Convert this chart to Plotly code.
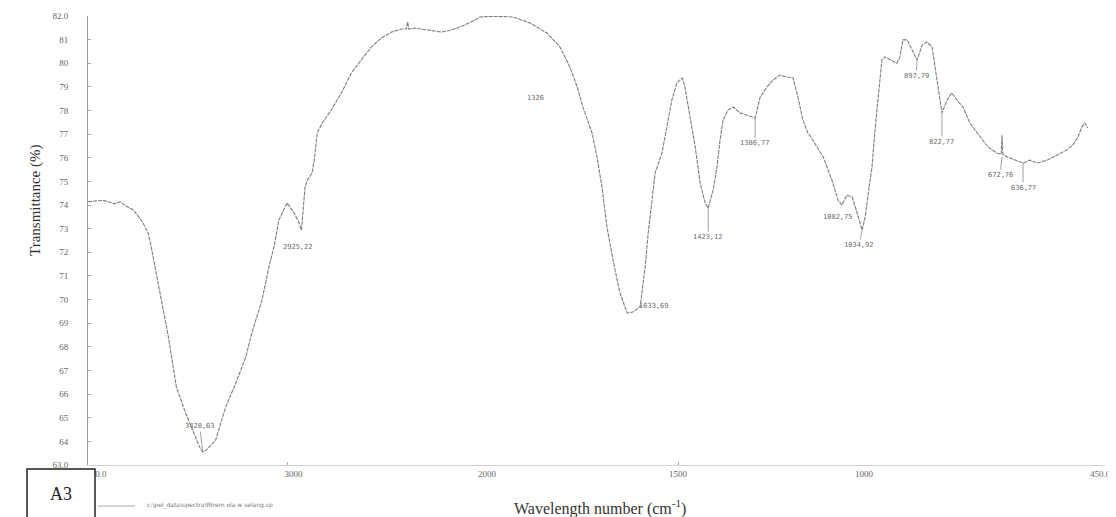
import numpy as np
import plotly.graph_objects as go

# ---- data ----
wavenumber = [4000, 3924, 3864, 3839, 3809, 3773, 3733, 3698, 3683, 3662, 3632, 3597, 3557, 3511,
              3461, 3440, 3425, 3405, 3360, 3310, 3259, 3209, 3179, 3128, 3093, 3068, 3043, 3002,
              2967, 2945, 2930, 2922, 2912, 2900, 2877, 2866, 2851, 2826, 2781, 2730, 2680, 2630,
              2579, 2529, 2479, 2428, 2404, 2398, 2392, 2363, 2297, 2227, 2176, 2111, 2060, 2035,
              1974, 1932, 1887, 1843, 1809, 1783, 1764, 1749, 1725, 1712, 1699, 1686, 1670, 1652,
              1633, 1618, 1599, 1586, 1578, 1568, 1560, 1542, 1529, 1516, 1503, 1489, 1482, 1469,
              1455, 1442, 1429, 1421, 1408, 1398, 1390, 1382, 1369, 1356, 1338, 1319, 1298, 1285,
              1267, 1251, 1233, 1215, 1199, 1186, 1173, 1160, 1147, 1120, 1097, 1081, 1071, 1058,
              1044, 1031, 1018, 1010, 1003, 993, 986, 979, 970, 963, 951, 935, 928, 921, 911, 900,
              888, 876, 865, 853, 846, 839, 830, 818, 807, 795, 781, 765, 741, 723, 702, 692, 690,
              688, 678, 660, 641, 625, 608, 585, 562, 539, 525, 513, 504, 497, 490]
transmittance = [74.14, 74.20, 74.05, 74.14, 73.96, 73.79, 73.37, 72.82, 72.22, 71.25, 69.98, 68.42,
                 66.30, 65.20, 64.18, 63.75, 63.55, 63.65, 64.06, 65.45, 66.47, 67.57, 68.58, 69.98,
                 71.38, 72.22, 73.37, 74.09, 73.66, 73.30, 72.94, 73.90, 74.76, 75.06, 75.35, 75.90,
                 77.05, 77.47, 78.02, 78.74, 79.59, 80.14, 80.69, 81.07, 81.32, 81.45, 81.45, 81.75,
                 81.45, 81.49, 81.41, 81.32, 81.41, 81.62, 81.83, 81.96, 81.98, 81.96, 81.70, 81.28,
                 80.69, 79.84, 79.00, 78.15, 77.05, 76.03, 74.76, 73.07, 71.67, 70.28, 69.43, 69.47,
                 69.70, 71.38, 72.82, 74.21, 75.35, 76.20, 77.30, 78.45, 79.16, 79.38, 79.00, 77.73,
                 76.46, 74.93, 74.09, 73.87, 74.64, 75.60, 76.75, 77.60, 78.02, 78.15, 77.90, 77.80,
                 77.68, 78.57, 79.00, 79.29, 79.50, 79.42, 79.38, 78.57, 77.60, 77.05, 76.75, 76.03,
                 75.06, 74.21, 74.00, 74.42, 74.34, 73.66, 72.94, 73.49, 74.34, 75.60, 77.18, 78.45,
                 80.14, 80.27, 80.14, 80.00, 80.27, 80.99, 80.99, 80.56, 80.14, 80.78, 80.90, 80.69,
                 79.84, 79.00, 77.90, 78.45, 78.74, 78.45, 78.15, 77.47, 76.88, 76.46, 76.20, 76.15,
                 76.95, 76.15, 76.03, 75.90, 75.78, 75.90, 75.78, 75.90, 76.12, 76.33, 76.54, 76.88,
                 77.30, 77.47, 77.26]

# labelled peaks: position on the curve, label text, label offset (px)
peak_wn = [3425, 2930, 1633, 1421, 1298, 1071, 1018, 888, 830, 690, 641]
peak_T = [63.55, 72.94, 69.43, 73.87, 77.68, 74.00, 72.94, 80.14, 77.90, 76.03, 75.78]
peak_labels = ["3428,63", "2925,22", "1633,69", "1423,12", "1386,77", "1082,75",
               "1034,92", "897,79", "822,77", "672,76", "636,77"]
peak_dx = [-3, -3, 27, 0, 0, -4, -3, -1, 0, -2, 0]
peak_dy = [-26, 17, -7, 29, 25, 12, 15, 16, 29, 18, 25]
peak_arrow = [True, False, False, True, True, False, True, True, True, True, True]

extra_label_wn = [1874]
extra_label_T = [78.53]
extra_label_text = ["1326"]

# x-axis segments of the instrument chart (scale changes)
segments = [(4000, 2000), (2000, 1000), (1000, 450)]
seg_tickvals = [[4000, 3000], [2000, 1500], [1000, 450]]
seg_ticktext = [["4000.0", "3000"], ["2000", "1500"], ["1000", "450.0"]]
seg_labelshift = [-6, 0, 5]   # reversed axes: negative moves labels right
y_tickvals = list(range(63, 83))
y_ticktext = ["63.0"] + [str(v) for v in range(64, 82)] + ["82.0"]

# page has an 8px body margin, so the figure is drawn 8px smaller
W, H = 1108, 509
ml, mr, mt, mb = 80, 11, 8, 52
plot_w = W - ml - mr
plot_h = H - mt - mb
PL, PB = 88, 465          # plot left / bottom in page pixels
bounds_px = [0, 487 - PL, 869 - PL, plot_w]
domains = [[bounds_px[i] / plot_w, bounds_px[i + 1] / plot_w] for i in range(3)]


def px_x(p):
    return (p - PL) / plot_w


def px_y(p):
    return (PB - p) / plot_h


wn = np.array(wavenumber, dtype=float)
tr = np.array(transmittance, dtype=float)

fig = go.Figure()
axis_names = ["x", "x2", "x3"]
line_color = "#7d7d7d"
for i, (hi, lo) in enumerate(segments):
    idx = np.where((wn <= hi) & (wn >= lo))[0]
    a = max(idx.min() - 1, 0)
    b = min(idx.max() + 1, len(wn) - 1)
    fig.add_trace(go.Scatter(x=wn[a:b + 1], y=tr[a:b + 1], mode="lines",
                             line=dict(color=line_color, width=1.1, dash="4px,1px"),
                             xaxis=axis_names[i], yaxis="y", showlegend=False,
                             hoverinfo="x+y"))

tick_font = dict(family="Liberation Serif", size=9, color="#666666")
for i in range(3):
    key = "xaxis" if i == 0 else f"xaxis{i + 1}"
    hi, lo = segments[i]
    ax = dict(domain=domains[i], range=[hi, lo], tickvals=seg_tickvals[i],
              ticktext=seg_ticktext[i], showgrid=False, zeroline=False,
              showline=True, linecolor="#d4d4d4", linewidth=1,
              ticks="inside", ticklen=3, tickcolor="#aaaaaa", tickfont=tick_font,
              ticklabelshift=seg_labelshift[i], ticklabeloverflow="allow",
              anchor="y", automargin=False)
    fig.layout[key] = ax

fig.update_layout(
    yaxis=dict(range=[63, 82], tickvals=y_tickvals, ticktext=y_ticktext,
               showgrid=False, zeroline=False, showline=True, linecolor="#9a9a9a",
               linewidth=1, ticks="inside", ticklen=3, tickcolor="#aaaaaa",
               tickfont=tick_font, ticklabelstandoff=17, ticklabeloverflow="allow",
               anchor="x", automargin=False),
    width=W, height=H, margin=dict(l=ml, r=mr, t=mt, b=mb),
    paper_bgcolor="white", plot_bgcolor="white", showlegend=False,
)


def axis_for(w):
    for i, (hi, lo) in enumerate(segments):
        if lo <= w <= hi:
            return axis_names[i]
    return "x3"


lab_font = dict(family="DejaVu Sans Mono", size=7, color="#6a6a6a")
for w, t, txt, dx, dy, arr in zip(peak_wn, peak_T, peak_labels, peak_dx, peak_dy, peak_arrow):
    xr = axis_for(w)
    if arr:
        fig.add_annotation(x=w, y=t, xref=xr, yref="y", text=txt, showarrow=True,
                           ax=dx, ay=dy, arrowhead=0, arrowwidth=0.8, arrowcolor="#8a8a8a",
                           font=lab_font, standoff=0)
    else:
        fig.add_annotation(x=w, y=t, xref=xr, yref="y", text=txt, showarrow=False,
                           xshift=dx, yshift=-dy, font=lab_font,
                           xanchor="center", yanchor="middle")
for w, t, txt in zip(extra_label_wn, extra_label_T, extra_label_text):
    fig.add_annotation(x=w, y=t, xref=axis_for(w), yref="y", text=txt, showarrow=False,
                       font=lab_font, xanchor="center", yanchor="middle")

# axis titles
fig.add_annotation(xref="paper", yref="paper", x=px_x(35), y=px_y(200),
                   text="Transmittance (%)", textangle=-90, showarrow=False,
                   xanchor="center", yanchor="middle",
                   font=dict(family="Liberation Serif", size=15, color="#333333"))
fig.add_annotation(xref="paper", yref="paper", x=px_x(600), y=px_y(507),
                   text="Wavelength number (cm<sup>-1</sup>)", showarrow=False,
                   xanchor="center", yanchor="middle",
                   font=dict(family="Liberation Serif", size=16, color="#333333"))

# file path note and sample tag
fig.add_annotation(xref="paper", yref="paper", x=px_x(145), y=px_y(505),
                   xanchor="left", yanchor="middle",
                   text="c:\\pel_data\\spectra\\fitrem ola w selang.sp", showarrow=False,
                   font=dict(family="DejaVu Sans", size=6, color="#777777"))
fig.add_shape(type="line", xref="paper", yref="paper",
              x0=px_x(98), x1=px_x(135), y0=px_y(506), y1=px_y(506),
              line=dict(color="#aaaaaa", width=1))
fig.add_shape(type="rect", xref="paper", yref="paper", layer="above",
              x0=px_x(27), x1=px_x(95), y0=px_y(530), y1=px_y(469),
              fillcolor="white", line=dict(color="#222222", width=1.5))
fig.add_annotation(xref="paper", yref="paper", x=px_x(61), y=px_y(494),
                   text="A3", showarrow=False, xanchor="center", yanchor="middle",
                   font=dict(family="Liberation Serif", size=18, color="#222222"))

fig.write_html("out.html")
